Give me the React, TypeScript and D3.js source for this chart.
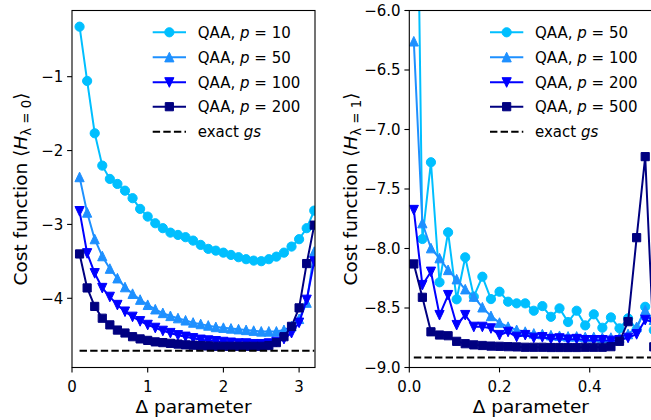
import React from 'react';
import * as d3 from 'd3';

// ---------- data ----------
const leftDelta = [0.1, 0.2, 0.3, 0.4, 0.5, 0.6, 0.7, 0.8, 0.9, 1.0, 1.1, 1.2, 1.3, 1.4, 1.5, 1.6,
  1.7, 1.8, 1.9, 2.0, 2.1, 2.2, 2.3, 2.4, 2.5, 2.6, 2.7, 2.8, 2.9, 3.0, 3.1, 3.2];
const leftP10 = [-0.323, -1.058, -1.766, -2.204, -2.384, -2.452, -2.543, -2.645, -2.79, -2.894, -2.984,
  -3.051, -3.111, -3.142, -3.173, -3.219, -3.277, -3.331, -3.355, -3.382, -3.413, -3.444, -3.471, -3.49,
  -3.498, -3.471, -3.436, -3.382, -3.3, -3.2, -3.051, -2.813];
const leftP50 = [-2.36, -2.84, -3.2, -3.43, -3.6, -3.73, -3.85, -3.94, -4.02, -4.09, -4.15, -4.2, -4.24,
  -4.27, -4.3, -4.33, -4.35, -4.37, -4.39, -4.4, -4.41, -4.42, -4.43, -4.44, -4.45, -4.45, -4.45, -4.43,
  -4.38, -4.28, -4.06, -3.37];
const leftP100 = [-2.82, -3.39, -3.66, -3.86, -3.98, -4.09, -4.18, -4.25, -4.31, -4.36, -4.4, -4.44, -4.47,
  -4.5, -4.52, -4.54, -4.56, -4.57, -4.58, -4.59, -4.6, -4.61, -4.61, -4.62, -4.62, -4.61, -4.59, -4.55,
  -4.47, -4.33, -4.02, -3.5];
const leftP200 = [-3.4, -3.86, -4.11, -4.27, -4.36, -4.43, -4.47, -4.52, -4.55, -4.57, -4.59, -4.6, -4.61,
  -4.62, -4.63, -4.635, -4.64, -4.645, -4.65, -4.65, -4.65, -4.65, -4.65, -4.65, -4.65, -4.64, -4.6, -4.52,
  -4.38, -4.13, -3.53, -3.01];
const leftExact = -4.71;

const rightDelta = [0.01, 0.029, 0.048, 0.067, 0.086, 0.105, 0.124, 0.143, 0.162, 0.181, 0.2, 0.219, 0.238,
  0.257, 0.276, 0.295, 0.314, 0.333, 0.352, 0.371, 0.39, 0.409, 0.428, 0.447, 0.466, 0.485, 0.504, 0.523,
  0.542, 0.561];
const rightP50 = [-2.6, -7.92, -7.275, -8.284, -7.864, -8.427, -8.074, -8.405, -8.237, -8.425, -8.363, -8.447,
  -8.461, -8.461, -8.523, -8.484, -8.574, -8.503, -8.618, -8.523, -8.646, -8.553, -8.666, -8.579, -8.671,
  -8.587, -8.68, -8.49, -8.686, -8.6];
const rightP100 = [-6.26, -7.788, -7.998, -8.082, -8.181, -8.259, -8.343, -8.405, -8.495, -8.568, -8.624,
  -8.658, -8.685, -8.7, -8.715, -8.72, -8.73, -8.735, -8.74, -8.74, -8.745, -8.745, -8.75, -8.75, -8.75,
  -8.72, -8.66, -8.52, -8.6, -8.65];
const rightP200 = [-7.676, -8.307, -8.195, -8.559, -8.391, -8.643, -8.559, -8.658, -8.658, -8.671, -8.727,
  -8.7, -8.742, -8.727, -8.75, -8.745, -8.76, -8.755, -8.765, -8.76, -8.77, -8.77, -8.77, -8.775, -8.77,
  -8.75, -8.72, -8.6, -8.62, -8.66];
const rightP500 = [-8.13, -8.41, -8.7, -8.727, -8.733, -8.78, -8.8, -8.81, -8.815, -8.82, -8.822, -8.825,
  -8.827, -8.83, -8.83, -8.83, -8.832, -8.832, -8.832, -8.832, -8.83, -8.83, -8.83, -8.825, -8.78, -8.615,
  -7.909, -7.228, -8.826, -8.83];
const rightExact = -8.916;

const leftXTicks = [0, 1, 2, 3];
const leftYTicks = [-1, -2, -3, -4];
const rightXTicks = [0.0, 0.2, 0.4];
const rightYTicks = [-6.0, -6.5, -7.0, -7.5, -8.0, -8.5, -9.0];

const leftLabels = ['10', '50', '100', '200'];
const rightLabels = ['50', '100', '200', '500'];

// ---------- style ----------
const COLORS = ['#00BFFF', '#1E90FF', '#0000FF', '#000080'];
const MARKERS = ['circle', 'triUp', 'triDown', 'square'];
const FONT = "'DejaVu Sans', sans-serif";
const TICK_FS = 15;
const LEG_FS = 15;
const LAB_FS = 18.5;

function Marker({ kind, x, y, color }: { kind: string; x: number; y: number; color: string }) {
  const s = 4.6;
  if (kind === 'circle') return <circle cx={x} cy={y} r={4.6} fill={color} stroke={color} strokeWidth={1} />;
  let d = '';
  if (kind === 'triUp') d = `M${x},${y - s - 0.4}L${x + s},${y + s}L${x - s},${y + s}Z`;
  else if (kind === 'triDown') d = `M${x},${y + s + 0.4}L${x + s},${y - s}L${x - s},${y - s}Z`;
  else {
    const h = 4.1;
    d = `M${x - h},${y - h}L${x + h},${y - h}L${x + h},${y + h}L${x - h},${y + h}Z`;
  }
  return <path d={d} fill={color} stroke={color} strokeWidth={1} strokeLinejoin="miter" />;
}

type PanelProps = {
  id: string;
  x0: number; x1: number; y0: number; y1: number;
  xDomain: [number, number]; yDomain: [number, number];
  xs: number[]; series: number[][]; labels: string[];
  exact: number;
  xTicks: number[]; yTicks: number[];
  xFmt: (v: number) => string; yFmt: (v: number) => string;
  legendX: number;
  ylabelX: number; sub: string;
};

function Panel(p: PanelProps) {
  const xs = d3.scaleLinear().domain(p.xDomain).range([p.x0, p.x1]);
  const ys = d3.scaleLinear().domain(p.yDomain).range([p.y1, p.y0]);
  const line = d3.line<[number, number]>().x(d => xs(d[0])).y(d => ys(d[1]));
  const TL = 4.9;
  const legendRows = [32.3, 57.3, 82.3, 106.7, 131.7];
  const ymid = (p.y0 + p.y1) / 2;
  return (
    <g>
      <defs>
        <clipPath id={p.id}>
          <rect x={p.x0} y={p.y0} width={p.x1 - p.x0} height={p.y1 - p.y0} />
        </clipPath>
      </defs>
      <g clipPath={`url(#${p.id})`}>
        {p.series.map((vals, i) => {
          const pts = p.xs.map((x, j) => [x, vals[j]] as [number, number]);
          return (
            <g key={i}>
              <path d={line(pts) || ''} fill="none" stroke={COLORS[i]} strokeWidth={2} strokeLinejoin="round" />
              {pts.map((d, j) => (
                <Marker key={j} kind={MARKERS[i]} x={xs(d[0])} y={ys(d[1])} color={COLORS[i]} />
              ))}
            </g>
          );
        })}
        <path
          d={line([[p.xs[0], p.exact], [p.xs[p.xs.length - 1], p.exact]]) || ''}
          fill="none" stroke="#000" strokeWidth={2} strokeDasharray="7.4,3.2"
        />
      </g>
      {/* spines */}
      <rect x={p.x0} y={p.y0} width={p.x1 - p.x0} height={p.y1 - p.y0} fill="none" stroke="#000" strokeWidth={1.1} />
      {/* x ticks */}
      {p.xTicks.map(t => (
        <g key={'x' + t}>
          <line x1={xs(t)} x2={xs(t)} y1={p.y1} y2={p.y1 + TL} stroke="#000" strokeWidth={1.1} />
          <text x={xs(t)} y={p.y1 + 24} textAnchor="middle" fontSize={TICK_FS} fontFamily={FONT}>{p.xFmt(t)}</text>
        </g>
      ))}
      {p.yTicks.map(t => (
        <g key={'y' + t}>
          <line x1={p.x0 - TL} x2={p.x0} y1={ys(t)} y2={ys(t)} stroke="#000" strokeWidth={1.1} />
          <text x={p.x0 - TL - 3.8} y={ys(t) + 5.3} textAnchor="end" fontSize={TICK_FS} fontFamily={FONT}>{p.yFmt(t)}</text>
        </g>
      ))}
      {/* axis labels */}
      <text x={p.x0 + (315 - 72) / 2} y={p.y1 + 45} textAnchor="middle" fontSize={LAB_FS} fontFamily={FONT}>
        Δ parameter
      </text>
      <text transform={`translate(${p.ylabelX},${ymid}) rotate(-90)`} textAnchor="middle" fontSize={LAB_FS} fontFamily={FONT}>
        Cost function ⟨<tspan fontStyle="italic">H</tspan>
        <tspan fontSize={LAB_FS * 0.72} dy={4}>{'λ = ' + p.sub}</tspan>
        <tspan dy={-4}>⟩</tspan>
      </text>
      {/* legend */}
      {p.labels.map((lab, i) => (
        <g key={'l' + i}>
          <line x1={p.legendX} x2={p.legendX + 33.3} y1={legendRows[i]} y2={legendRows[i]} stroke={COLORS[i]} strokeWidth={2} />
          <Marker kind={MARKERS[i]} x={p.legendX + 16.65} y={legendRows[i]} color={COLORS[i]} />
          <text x={p.legendX + 45} y={legendRows[i] + 5.3} fontSize={LEG_FS} fontFamily={FONT}>
            QAA, <tspan fontStyle="italic">p</tspan> = {lab}
          </text>
        </g>
      ))}
      <line x1={p.legendX} x2={p.legendX + 33.3} y1={legendRows[4]} y2={legendRows[4]} stroke="#000" strokeWidth={2} strokeDasharray="7.4,3.2" />
      <text x={p.legendX + 45} y={legendRows[4] + 5.3} fontSize={LEG_FS} fontFamily={FONT}>
        exact <tspan fontStyle="italic">gs</tspan>
      </text>
    </g>
  );
}

export default function App() {
  const fmtInt = (v: number) => (v < 0 ? '\u2212' + Math.abs(v) : String(v));
  const fmt1 = (v: number) => (v < 0 ? '\u2212' + Math.abs(v).toFixed(1) : v.toFixed(1));
  return (
    <div style={{ position: 'absolute', left: 0, top: 0 }}>
      <svg width={651} height={420} style={{ display: 'block', background: '#fff' }}>
        <Panel
          id="clipL" x0={72} x1={315} y0={10.5} y1={367.5}
          xDomain={[0, 3.21]} yDomain={[-4.937, -0.104]}
          xs={leftDelta} series={[leftP10, leftP50, leftP100, leftP200]} labels={leftLabels}
          exact={leftExact} xTicks={leftXTicks} yTicks={leftYTicks}
          xFmt={(v) => String(v)} yFmt={fmtInt}
          legendX={152.7} ylabelX={27} sub="0"
        />
        <Panel
          id="clipR" x0={409.3} x1={661.9} y0={10.5} y1={367.5}
          xDomain={[0, 0.56]} yDomain={[-9, -6]}
          xs={rightDelta} series={[rightP50, rightP100, rightP200, rightP500]} labels={rightLabels}
          exact={rightExact} xTicks={rightXTicks} yTicks={rightYTicks}
          xFmt={fmt1} yFmt={fmt1}
          legendX={490} ylabelX={357} sub="1"
        />
      </svg>
    </div>
  );
}
